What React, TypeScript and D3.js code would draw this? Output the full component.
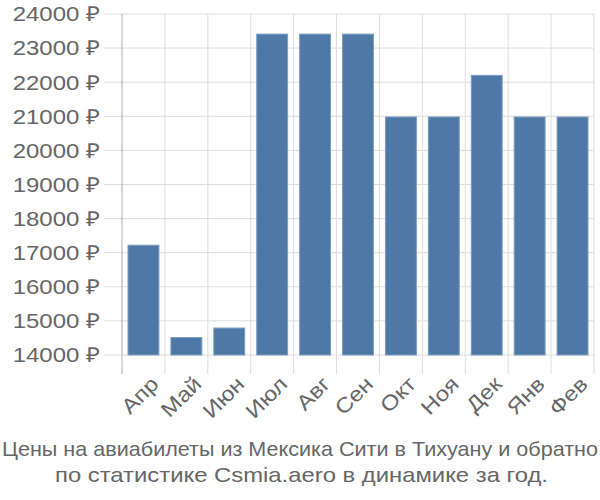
import React, { useEffect, useRef } from 'react';
import * as d3 from 'd3';

const months = ['Апр', 'Май', 'Июн', 'Июл', 'Авг', 'Сен', 'Окт', 'Ноя', 'Дек', 'Янв', 'Фев'];
const prices = [17220, 14510, 14790, 23410, 23410, 23410, 20980, 20980, 22200, 20980, 20980];
const yTicks = [14000, 15000, 16000, 17000, 18000, 19000, 20000, 21000, 22000, 23000, 24000];
const titleLines = [
  'Цены на авиабилеты из Мексика Сити в Тихуану и обратно',
  'по статистике Csmia.aero в динамике за год.',
];

export default function App() {
  const ref = useRef<SVGSVGElement>(null);

  useEffect(() => {
    const svg = d3.select(ref.current);
    svg.selectAll('*').remove();
    const left = 122;
    const right = 594;
    const top = 14;
    const bottom = 355;
    const font = '"Liberation Sans", Arial, sans-serif';
    const titleWidths = [596, 493];

    const x = d3.scaleBand().domain(months).range([left, right]).paddingInner(0).paddingOuter(0);
    const y = d3.scaleLinear().domain([14000, 24000]).range([bottom, top]);

    const grid = svg.append('g');
    grid
      .selectAll('.hgrid')
      .data(yTicks)
      .join('line')
      .attr('x1', left - 18)
      .attr('x2', right)
      .attr('y1', d => y(d))
      .attr('y2', d => y(d))
      .attr('stroke', '#dddddd')
      .attr('stroke-width', 1);
    grid
      .selectAll('.vgrid')
      .data(months.slice(1).concat(['end']))
      .join('line')
      .attr('x1', (d, i) => left + (i + 1) * x.bandwidth())
      .attr('x2', (d, i) => left + (i + 1) * x.bandwidth())
      .attr('y1', top)
      .attr('y2', bottom + 19)
      .attr('stroke', '#dddddd')
      .attr('stroke-width', 1);

    svg
      .append('line')
      .attr('x1', left)
      .attr('x2', left)
      .attr('y1', top)
      .attr('y2', bottom + 19)
      .attr('stroke', '#aaaaaa')
      .attr('stroke-width', 1);

    svg
      .selectAll('.bar')
      .data(prices)
      .join('rect')
      .attr('x', (d, i) => (x(months[i]) as number) + 6)
      .attr('width', x.bandwidth() - 12)
      .attr('y', d => y(d))
      .attr('height', d => bottom - y(d))
      .attr('fill', '#4e79a7')
      .attr('stroke', '#7a9cc2')
      .attr('stroke-width', 1);

    svg
      .selectAll('.ylab')
      .data(yTicks)
      .join('text')
      .attr('transform', d => `translate(100, ${y(d)}) scale(1.17, 1)`)
      .attr('dy', '0.36em')
      .attr('text-anchor', 'end')
      .attr('font-family', font)
      .attr('font-size', 20.5)
      .attr('fill', '#666666')
      .text(d => `${d} ₽`);

    svg
      .selectAll('.xlab')
      .data(months)
      .join('text')
      .attr('text-anchor', 'end')
      .attr('font-family', font)
      .attr('font-size', 21)
      .attr('fill', '#666666')
      .attr('transform', d => `translate(${(x(d) as number) + x.bandwidth() / 2 + 6}, ${bottom + 20}) rotate(-45) scale(1.14, 1)`)
      .attr('dy', '0.7em')
      .text(d => d);

    svg
      .selectAll('.title')
      .data(titleLines)
      .join('text')
      .attr('x', (d, i) => 300 - titleWidths[i] / 2 + (i === 1 ? 1.5 : 0))
      .attr('y', (d, i) => 456 + i * 26)
      .attr('textLength', (d, i) => titleWidths[i])
      .attr('lengthAdjust', 'spacingAndGlyphs')
      .attr('font-family', font)
      .attr('font-size', 21)
      .attr('fill', '#666666')
      .text(d => d);
  }, []);

  return (
    <svg
      ref={ref}
      width={600}
      height={500}
      style={{ position: 'absolute', left: 0, top: 0, background: '#fff' }}
    />
  );
}
